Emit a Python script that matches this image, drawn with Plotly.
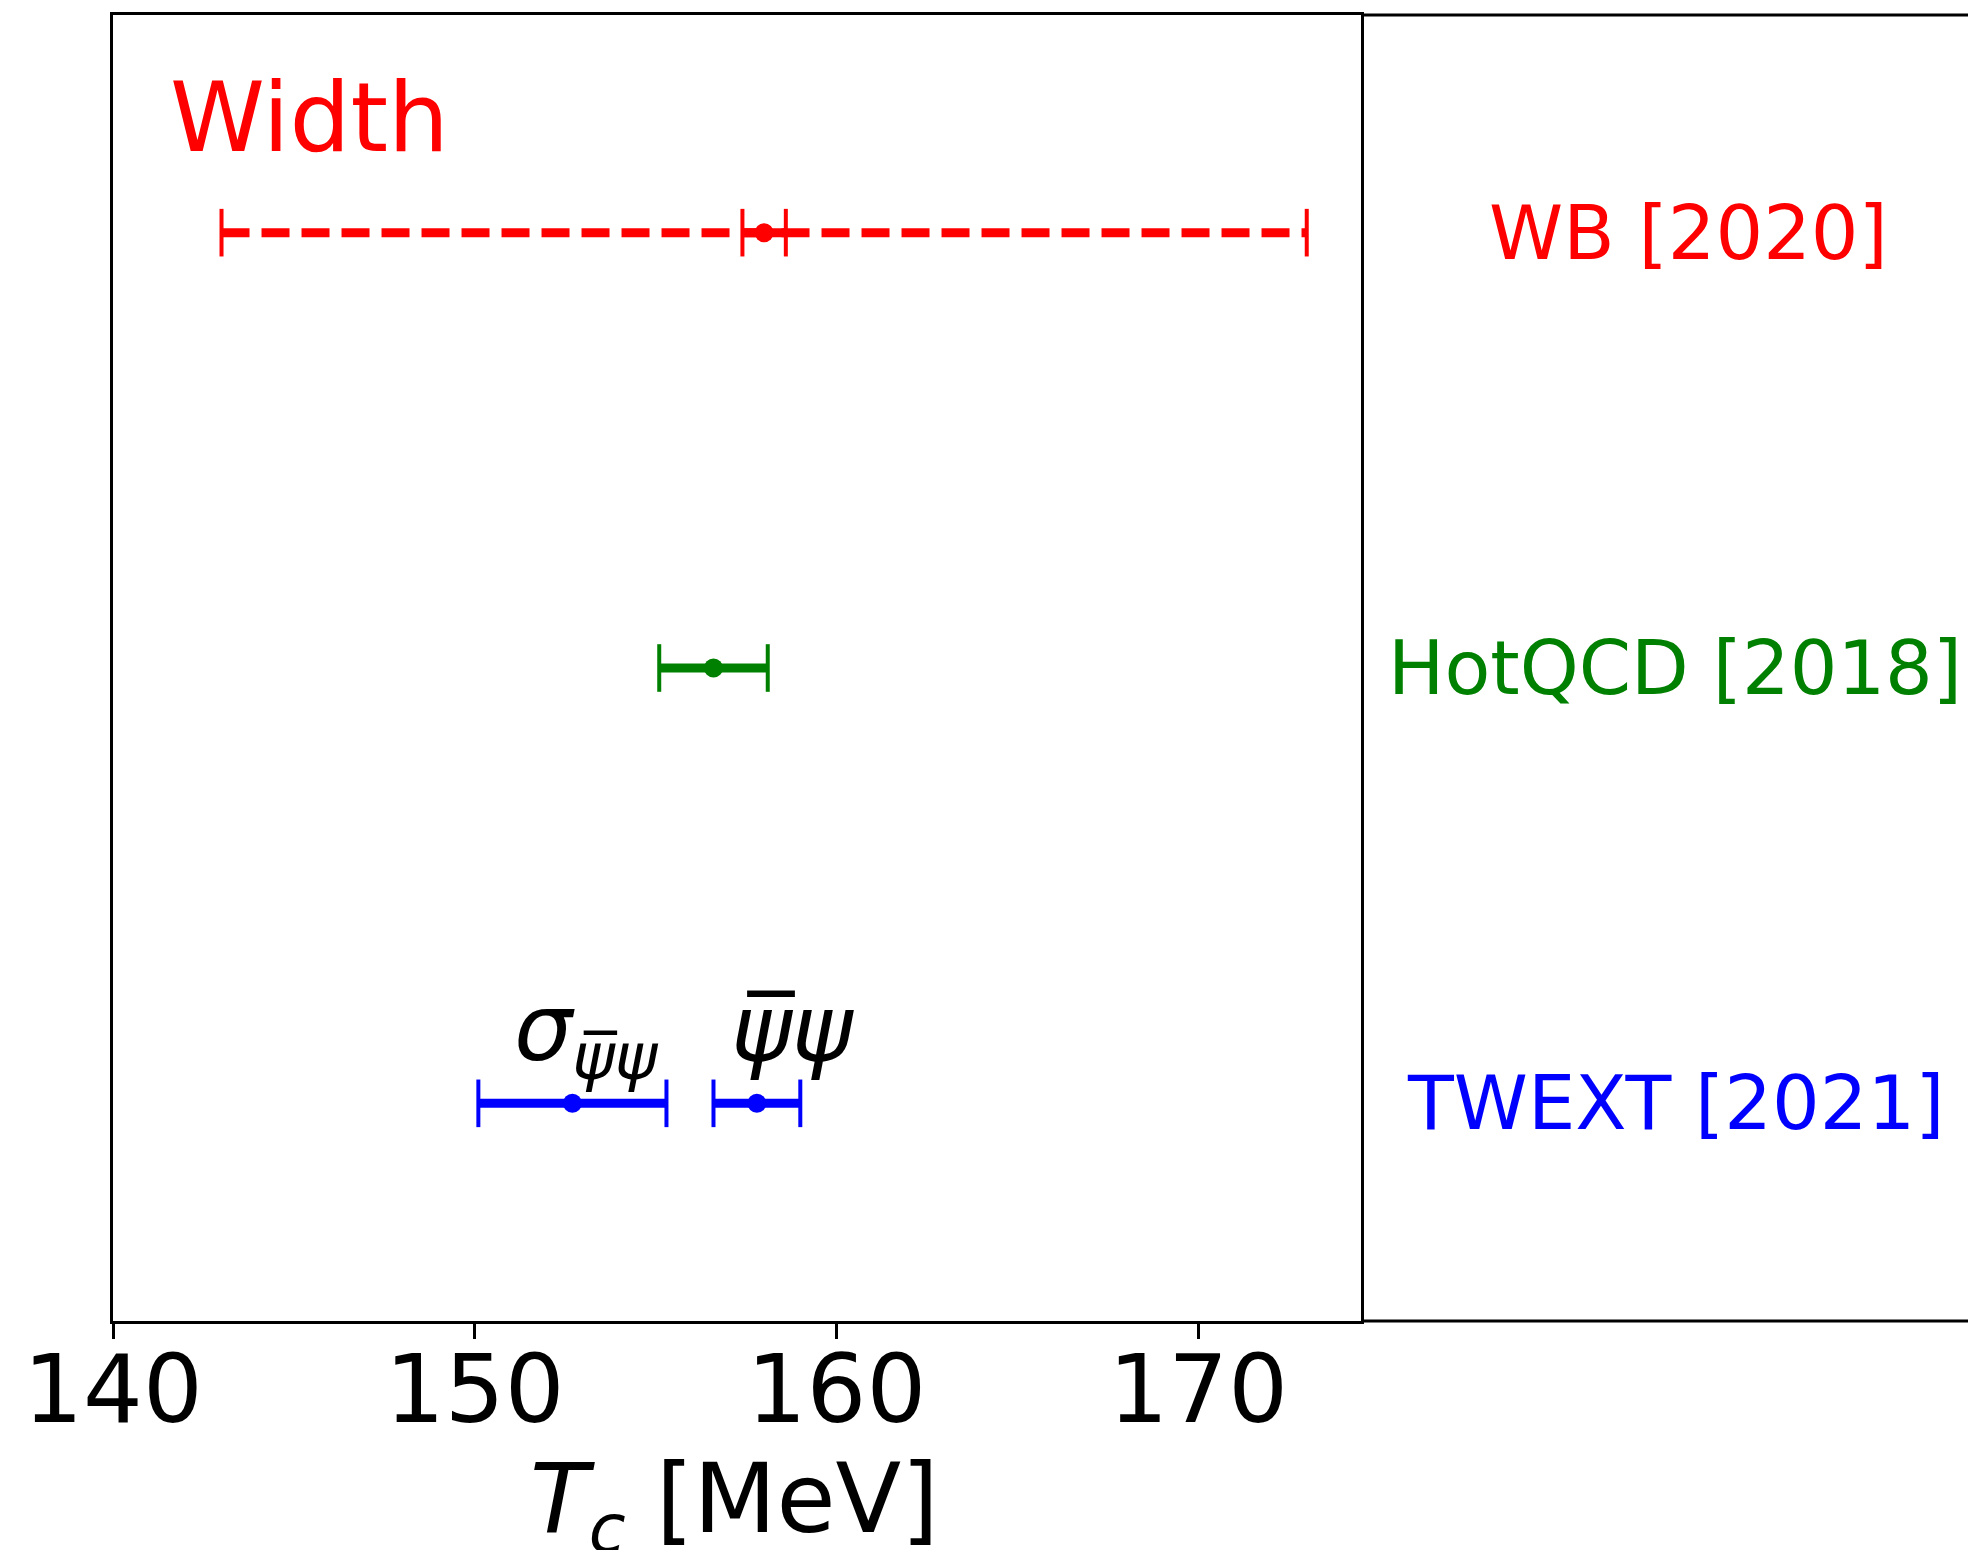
import plotly.graph_objects as go

# Pseudo-critical temperature determinations (MeV)
experiments = ["WB [2020]", "HotQCD [2018]", "TWEXT [2021]"]
row_y = [3, 2, 1]
colors = ["#ff0000", "#008000", "#0000ff"]

wb_tc = 158.0
wb_err = 0.6
wb_width = 15.0

hotqcd_tc = 156.6
hotqcd_err = 1.5

twext_labels = ["<i>σ</i><sub><i>\u03c8\u0305\u03c8</i></sub>", "<i>\u03c8\u0305\u03c8</i>"]
twext_tc = [152.7, 157.8]
twext_err = [2.6, 1.2]
twext_label_xy = [(153.1, 1.158), (158.8, 1.17)]

x_ticks = [140, 150, 160, 170]
x_range = [140, 174.5]
y_range = [0.5, 3.5]
x_title = "<i>T</i><sub><i>c</i></sub> [MeV]"

FONT = "DejaVu Sans"
BAR_W = 9
CAP_T = 4
CAP_SIZE = 34     # line-ns symbol: drawn length is 1.4 x size
MARKER = 19

fig = go.Figure()


def add_point(x, err, y, color, dash=None, marker=True):
    # thick horizontal bar
    fig.add_trace(go.Scatter(
        x=[x - err, x + err], y=[y, y], mode="lines",
        line=dict(color=color, width=BAR_W, dash=dash),
        hoverinfo="skip", showlegend=False))
    # thin vertical caps at both ends
    fig.add_trace(go.Scatter(
        x=[x - err, x + err], y=[y, y], mode="markers",
        marker=dict(symbol="line-ns", size=CAP_SIZE,
                    line=dict(color=color, width=CAP_T)),
        hoverinfo="skip", showlegend=False))
    if marker:
        fig.add_trace(go.Scatter(
            x=[x], y=[y], mode="markers",
            marker=dict(color=color, size=MARKER),
            showlegend=False))


# WB: width of the transition (dashed) and Tc with its error
add_point(wb_tc, wb_width, row_y[0], colors[0], dash="28px,12px", marker=False)
add_point(wb_tc, wb_err, row_y[0], colors[0])

# HotQCD
add_point(hotqcd_tc, hotqcd_err, row_y[1], colors[1])

# TWEXT: two observables
for tc, err in zip(twext_tc, twext_err):
    add_point(tc, err, row_y[2], colors[2])

annotations = []
for name, y, c, xp in zip(experiments, row_y, colors, [1.2628, 1.2520, 1.2520]):
    annotations.append(dict(
        x=xp, xref="paper", y=y, yref="y", text=name, showarrow=False,
        xanchor="center", yanchor="middle",
        font=dict(family=FONT, size=75, color=c)))

for txt, (lx, ly) in zip(twext_labels, twext_label_xy):
    annotations.append(dict(
        x=lx, y=ly, xref="x", yref="y", text=txt, showarrow=False,
        xanchor="center", yanchor="middle",
        font=dict(family=FONT, size=92, color="black")))

annotations.append(dict(
    x=0.044, xref="paper", y=0.921, yref="paper", text="Width",
    showarrow=False, xanchor="left", yanchor="middle",
    font=dict(family=FONT, size=96, color="#ff0000")))

# x-axis title, placed below the tick labels
annotations.append(dict(
    x=0.498, xref="paper", y=-0.141, yref="paper", text=x_title,
    showarrow=False, xanchor="center", yanchor="middle",
    font=dict(family=FONT, size=96, color="black")))

# frame lines continuing into the label panel on the right
shapes = [
    dict(type="line", xref="paper", yref="paper", x0=1, x1=1.6, y0=1, y1=1,
         line=dict(color="black", width=3)),
    dict(type="line", xref="paper", yref="paper", x0=1, x1=1.6, y0=0, y1=0,
         line=dict(color="black", width=3)),
]

fig.update_layout(
    width=1968, height=1550,
    margin=dict(l=113, r=607, t=15, b=229, pad=0),
    paper_bgcolor="white", plot_bgcolor="white",
    font=dict(family=FONT, color="black"),
    annotations=annotations, shapes=shapes,
    xaxis=dict(
        range=x_range, tickvals=x_ticks, ticktext=[str(t) for t in x_ticks],
        showgrid=False, zeroline=False,
        showline=True, linecolor="black", linewidth=3, mirror=True,
        ticks="outside", ticklen=15, tickwidth=3, tickcolor="black",
        ticklabelstandoff=-30,
        tickfont=dict(family=FONT, size=94, color="black"),
        automargin=False,
    ),
    yaxis=dict(
        range=y_range, showticklabels=False, ticks="", showgrid=False,
        zeroline=False, showline=True, linecolor="black", linewidth=3,
        mirror=True, automargin=False,
    ),
)

fig.write_html("out.html")
